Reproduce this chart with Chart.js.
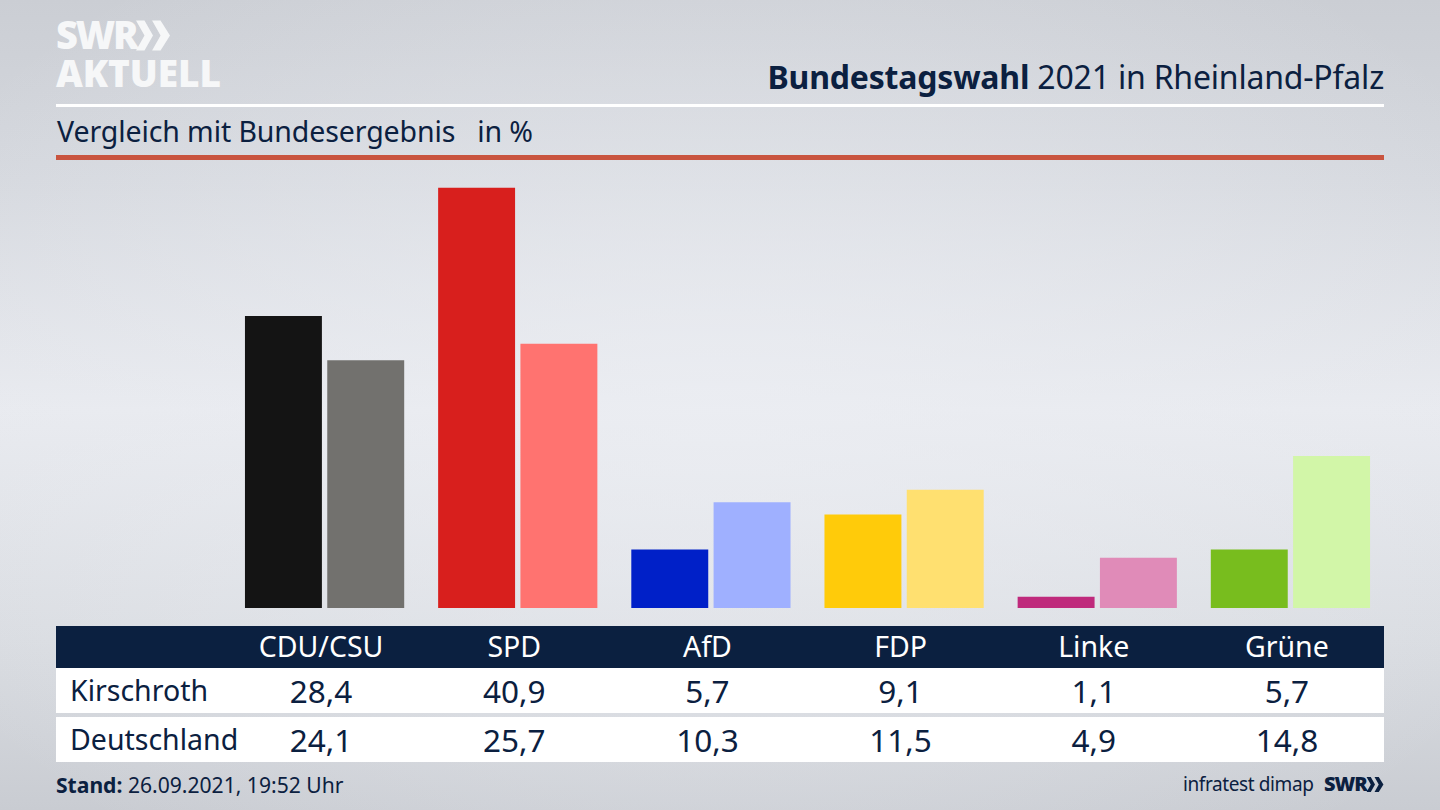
<!DOCTYPE html>
<html lang="de"><head><meta charset="utf-8">
<script src="https://cdn.jsdelivr.net/npm/chart.js@4"></script>
<style>
html,body{margin:0;padding:0;width:1440px;height:810px;overflow:hidden}
body{position:relative;font-family:"Noto Sans",sans-serif;color:#0b2040;
background:radial-gradient(ellipse 900px 560px at 720px 410px,rgba(236,238,243,.7),rgba(236,238,243,0) 100%),linear-gradient(180deg,#cbced4 0,#d5d8de 180px,#e8eaef 410px,#d9dce1 640px,#c9ccd2 810px)}
.a{position:absolute;white-space:nowrap;line-height:1}
.c{transform:translateX(-50%)}
#chart{position:absolute;left:0;top:0}
</style></head><body>
<div class="a" style="left:56px;top:104px;width:1328px;height:3px;background:#fff"></div>
<div class="a" style="left:56px;top:155px;width:1328px;height:5px;background:#c9543f"></div>
<div class="a" style="left:56px;top:15px;font:800 38px/1 'Open Sans';color:#f6f7f8;letter-spacing:-2.2px">SWR</div>
<svg class="a" style="left:136px;top:20px" width="34" height="31" viewBox="0 0 36 32"><path d="M0 0h9l9 16-9 16H0l9-16zM17 0h9l10 16-10 16h-9l9-16z" fill="#f6f7f8"/></svg>
<div class="a" style="left:56px;top:54px;font:800 37px/1 'Open Sans';color:#f6f7f8;letter-spacing:-.1px">AKTUELL</div>
<div class="a" style="right:56px;top:61px;font-size:32px;letter-spacing:-.2px"><b>Bundestagswahl</b> 2021 in Rheinland-Pfalz</div>
<div class="a" style="left:57px;top:117px;font-size:28.5px;letter-spacing:-.1px;white-space:pre">Vergleich mit Bundesergebnis   in %</div>
<div class="a" style="left:56px;top:626px;width:1328px;height:42px;background:#0b2040"></div>
<div class="a" style="left:56px;top:668px;width:1328px;height:45px;background:#fff"></div>
<div class="a" style="left:56px;top:717px;width:1328px;height:45px;background:#fff"></div>
<div id="cells"></div>
<div class="a" style="left:56px;top:774px;font-size:21.1px"><b>Stand:</b> 26.09.2021, 19:52 Uhr</div>
<div class="a" style="left:1183px;top:775px;font-size:19px;letter-spacing:-.4px">infratest dimap</div>
<div class="a" style="left:1324px;top:774px;font:800 20px/1 'Open Sans';letter-spacing:-1px">SWR</div>
<svg class="a" style="left:1366px;top:777px" width="18" height="15" viewBox="0 0 36 32"><path d="M0 0h9l9 16-9 16H0l9-16zM17 0h9l10 16-10 16h-9l9-16z" fill="#0b2040"/></svg>
<canvas id="chart" width="1440" height="810" style="width:1440px;height:810px"></canvas>
<script>
const parties = ["CDU/CSU","SPD","AfD","FDP","Linke","Grüne"];
const kirschroth = [28.4,40.9,5.7,9.1,1.1,5.7];
const deutschland = [24.1,25.7,10.3,11.5,4.9,14.8];
const strongColors = ["#141414","#d81f1d","#0020c8","#ffcb0a","#bf2a7c","#78bd1e"];
const paleColors = ["#72716e","#ff7370","#9fb0ff","#ffe070","#e08bb8","#d2f6a8"];
const rowNames = ["Kirschroth","Deutschland"];
const fmt = v => v.toFixed(1).replace(".",",");

const chart = new Chart(document.getElementById("chart"),{
  type:"bar",
  data:{labels:parties,datasets:[
    {label:rowNames[0],data:kirschroth,backgroundColor:strongColors,borderWidth:0},
    {label:rowNames[1],data:deutschland,backgroundColor:paleColors,borderWidth:0}
  ]},
  options:{
    responsive:false,animation:false,devicePixelRatio:1,
    layout:{padding:{left:228,right:53,top:145,bottom:202}},
    datasets:{bar:{categoryPercentage:.852,barPercentage:.935}},
    plugins:{legend:{display:false},tooltip:{enabled:false},title:{display:false}},
    scales:{
      x:{display:false,grid:{display:false}},
      y:{display:false,min:0,max:45.05,grid:{display:false}}
    }
  }
});

const cells = document.getElementById("cells");
function put(text,x,top,size,color,cls){
  const d=document.createElement("div");
  d.className="a"+(cls?" c":"");
  d.textContent=text;
  d.style.cssText=`left:${x}px;top:${top}px;font-size:${size}px;color:${color}`;
  cells.appendChild(d);
}
parties.forEach((p,i)=>{
  const cx = chart.scales.x.getPixelForValue(i);
  put(p,cx-3.5,632,28.5,"#fff",true);
  put(fmt(kirschroth[i]),cx-3.5,675,31.5,"#0b2040",true);
  put(fmt(deutschland[i]),cx-3.5,724,31.5,"#0b2040",true);
});
put(rowNames[0],70,676,28.5,"#0b2040");
put(rowNames[1],70,725,28.5,"#0b2040");
</script>
</body></html>
